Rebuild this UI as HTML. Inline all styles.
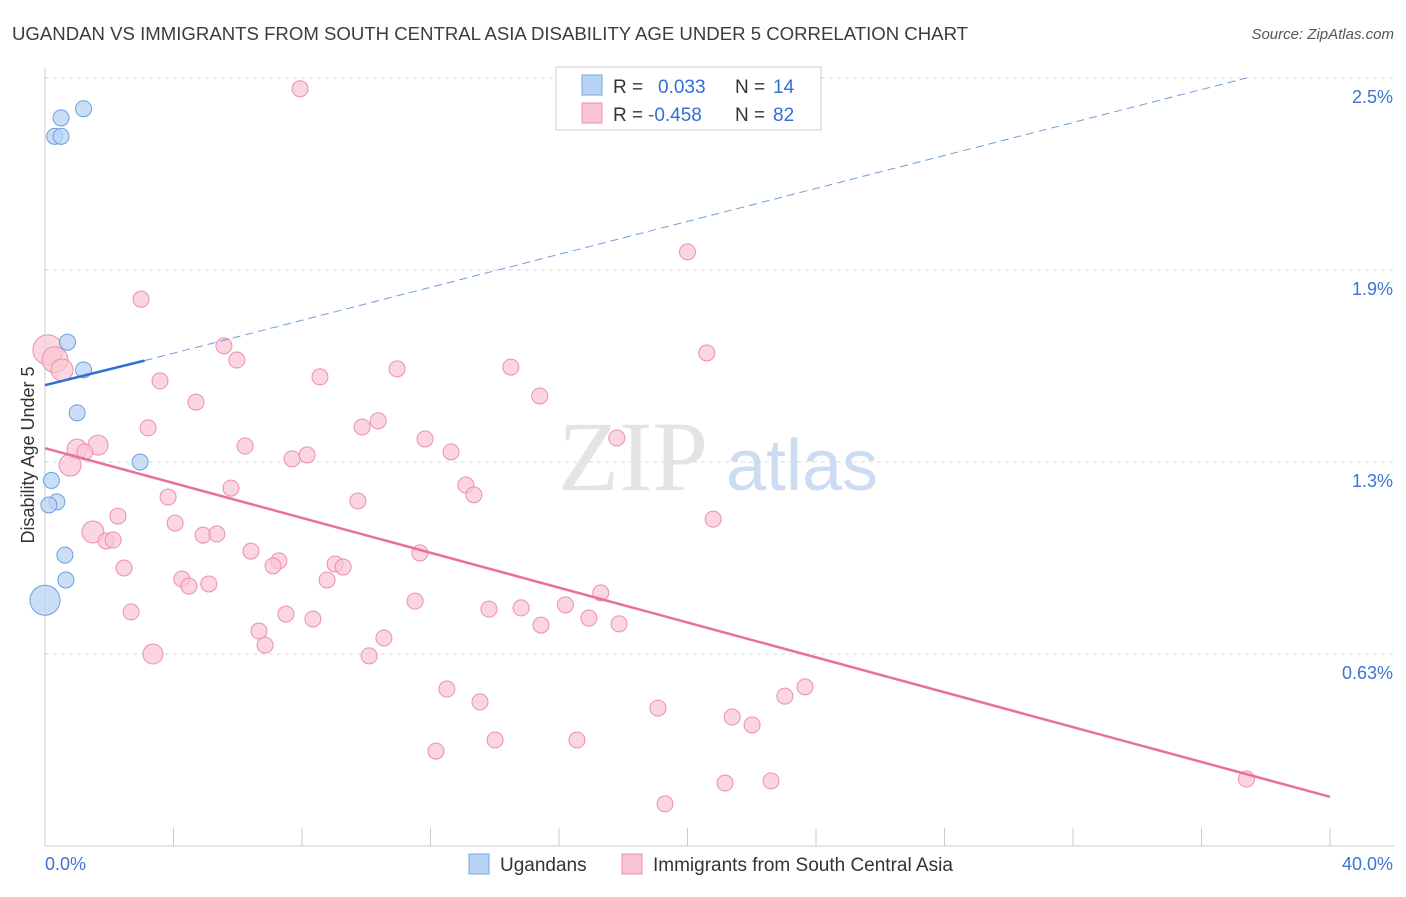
<!DOCTYPE html>
<html><head><meta charset="utf-8"><style>
body{margin:0;background:#fff;font-family:"Liberation Sans",sans-serif}
</style></head><body>
<svg width="1406" height="892" viewBox="0 0 1406 892" xmlns="http://www.w3.org/2000/svg" font-family="Liberation Sans, sans-serif">
<text x="12" y="40" font-size="18.6" fill="#3c3c3c">UGANDAN VS IMMIGRANTS FROM SOUTH CENTRAL ASIA DISABILITY AGE UNDER 5 CORRELATION CHART</text>
<text x="1394" y="39" font-size="15" fill="#555" text-anchor="end" font-style="italic">Source: ZipAtlas.com</text>
<g id="grid"></g>
<g opacity="0.9">
<text x="633" y="490" font-size="100" fill="#e2e2e2" font-family="Liberation Serif, serif" text-anchor="middle">ZIP</text>
<text x="802" y="490" font-size="72" fill="#c8daf0" text-anchor="middle">atlas</text>
</g>
<text transform="translate(34,455) rotate(-90)" font-size="18" fill="#333" text-anchor="middle">Disability Age Under 5</text>
<g id="pts"></g>
<g id="lines"></g>
<g>
<rect x="556" y="67" width="265" height="63" fill="#fff" stroke="#ccc"/>
<rect x="582" y="75" width="20" height="20" fill="#b9d3f5" stroke="#7aa6e0"/>
<rect x="582" y="103" width="20" height="20" fill="#f9c4d3" stroke="#ec8fab"/>
<text x="613" y="93" font-size="19" fill="#333">R = <tspan x="658" fill="#2f6fd6">0.033</tspan><tspan x="735">N = </tspan><tspan x="773" fill="#2f6fd6">14</tspan></text>
<text x="613" y="121" font-size="19" fill="#333">R = <tspan x="648" fill="#2f6fd6">-0.458</tspan><tspan x="735">N = </tspan><tspan x="773" fill="#2f6fd6">82</tspan></text>
</g>
<g>
<rect x="469" y="854" width="20" height="20" fill="#b9d3f5" stroke="#7aa6e0"/>
<text x="500" y="871" font-size="19" fill="#333">Ugandans</text>
<rect x="622" y="854" width="20" height="20" fill="#f9c4d3" stroke="#ec8fab"/>
<text x="653" y="871" font-size="19" fill="#333">Immigrants from South Central Asia</text>
</g>
</svg>
<script>
const yTicks=[2.5,1.875,1.25,0.625];
const yTickLabels=["2.5%","1.9%","1.3%","0.63%"];
const xTickLabels=["0.0%","40.0%"];
const blueX=[1.2,0.5,0.3,0.5,0.7,1.2,1.0,2.96,0.2,0.37,0.12,0.62,0.65,0.0];
const blueY=[2.40,2.37,2.31,2.31,1.64,1.55,1.41,1.25,1.19,1.12,1.11,0.947,0.866,0.80];
const blueS=[8,8,8,8,8,8,8,8,8,8,8,8,8,15];
const pinkX=[7.94,20.0,2.99,0.09,0.31,0.53,5.57,5.97,20.6,3.58,8.56,10.96,14.5,4.70,15.4,3.21,10.37,9.87,11.83,17.8,6.23,1.65,1.0,1.24,12.64,7.69,8.16,0.78,5.79,13.1,13.35,3.83,9.74,2.27,4.05,20.8,1.49,4.92,5.35,1.9,2.12,6.41,11.67,7.28,7.1,9.03,9.28,2.46,8.78,4.26,4.48,5.1,11.52,17.3,2.68,13.82,14.82,16.2,16.93,7.5,8.34,15.44,17.87,6.66,10.55,6.85,3.36,10.09,12.51,23.66,23.03,13.54,19.08,21.39,22.01,14.01,16.56,12.17,21.17,22.6,37.4,19.3];
const pinkY=[2.465,1.934,1.780,1.615,1.583,1.55,1.628,1.582,1.605,1.514,1.527,1.553,1.559,1.445,1.465,1.361,1.384,1.364,1.325,1.328,1.302,1.305,1.292,1.283,1.283,1.260,1.273,1.240,1.165,1.175,1.143,1.136,1.123,1.074,1.051,1.064,1.022,1.012,1.016,0.993,0.996,0.960,0.954,0.928,0.912,0.918,0.908,0.905,0.866,0.869,0.846,0.853,0.797,0.824,0.762,0.771,0.775,0.785,0.742,0.755,0.739,0.719,0.723,0.700,0.677,0.654,0.625,0.619,0.511,0.518,0.488,0.469,0.449,0.420,0.394,0.345,0.345,0.309,0.205,0.212,0.218,0.137];
const pinkS=Array(82).fill(8);pinkS[3]=15;pinkS[4]=13;pinkS[5]=11;pinkS[27]=11;pinkS[36]=11;pinkS[21]=10;pinkS[22]=10;pinkS[66]=10;
const blueTrend=[0.0,1.50,3.1,1.58];
const blueDash=[37.4,2.5];
const pinkTrend=[0.0,1.295,40.0,0.16];
const NS="http://www.w3.org/2000/svg";
const X=v=>45+v*32.125, Y=v=>846-v*307.2;
function mk(t,a,p){const e=document.createElementNS(NS,t);for(const k in a)e.setAttribute(k,a[k]);p.appendChild(e);return e;}
const grid=document.getElementById('grid'),pts=document.getElementById('pts'),lines=document.getElementById('lines');
yTicks.forEach((v,i)=>{
 const l=mk('line',{x1:45,x2:1394,y1:Y(v),y2:Y(v),stroke:'#d8d8d8','stroke-dasharray':'4,4'},grid);
 
 
 const t=mk('text',{x:1393,y:Y(v)+25,'font-size':18,fill:'#3d73d1','text-anchor':'end'},grid);t.textContent=yTickLabels[i];
 
 
});
const ax=mk('line',{x1:45,x2:1394,y1:846,y2:846,stroke:'#ccc'},grid);


const ay=mk('line',{x1:45,x2:45,y1:68,y2:846,stroke:'#ccc'},grid);


for(let i=0;i<=10;i++){const t=mk('line',{x1:X(i*4),x2:X(i*4),y1:828,y2:846,stroke:'#ccc'},grid);
 
 }
[[0,'start',45],[40,'end',1393]].forEach((a,i)=>{const t=mk('text',{x:a[2],y:870,'font-size':18,fill:'#3d73d1','text-anchor':a[1]},grid);t.textContent=xTickLabels[i];
 
 });
pinkX.forEach((x,i)=>{const c=mk('circle',{cx:X(x),cy:Y(pinkY[i]),r:pinkS[i],fill:'#f9c4d3','fill-opacity':0.7,stroke:'#ec8fab','stroke-width':1},pts);
 
 });
blueX.forEach((x,i)=>{const c=mk('circle',{cx:X(x),cy:Y(blueY[i]),r:blueS[i],fill:'#b9d3f5','fill-opacity':0.75,stroke:'#6f9edc','stroke-width':1},pts);
 
 });
const bt=mk('line',{x1:X(blueTrend[0]),y1:Y(blueTrend[1]),x2:X(blueTrend[2]),y2:Y(blueTrend[3]),stroke:'#2f6fd6','stroke-width':2.5},lines);


const bd=mk('line',{x1:X(blueTrend[2]),y1:Y(blueTrend[3]),x2:X(blueDash[0]),y2:Y(blueDash[1]),stroke:'#6f9edc','stroke-width':1,'stroke-dasharray':'8,5'},lines);


const pt=mk('line',{x1:X(pinkTrend[0]),y1:Y(pinkTrend[1]),x2:X(pinkTrend[2]),y2:Y(pinkTrend[3]),stroke:'#e8709a','stroke-width':2.5},lines);


</script>
</body></html>
